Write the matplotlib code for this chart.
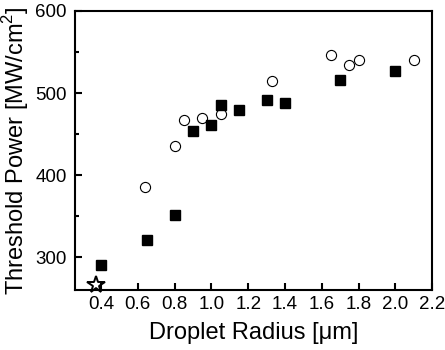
import numpy as np
import matplotlib as mpl
mpl.use('Agg')
import matplotlib.pyplot as plt
from matplotlib.ticker import MultipleLocator

plt.rcParams['font.family'] = ['Liberation Sans', 'DejaVu Sans']
plt.rcParams['mathtext.fontset'] = 'custom'
plt.rcParams['mathtext.rm'] = 'Liberation Sans'

# filled squares
sq_radius = [0.40, 0.65, 0.80, 0.90, 1.00, 1.05, 1.15, 1.30, 1.40, 1.70, 2.00]
sq_power = [291, 321, 352, 454, 461, 485, 479, 491, 488, 516, 527]

# open circles
ci_radius = [0.64, 0.80, 0.85, 0.95, 1.05, 1.33, 1.65, 1.75, 1.80, 2.10]
ci_power = [386, 435, 467, 469, 475, 515, 546, 534, 540, 540]

# star
st_radius = [0.37]
st_power = [266]

fig = plt.figure(figsize=(4.45, 3.5), dpi=100)
ax = fig.add_axes([0.1685, 0.1714, 0.8025, 0.7972])

ax.plot(ci_radius, ci_power, 'o', ms=7.3, mfc='white', mec='black', mew=0.8,
        linestyle='none')
ax.plot(sq_radius, sq_power, 's', ms=7, mfc='black', mec='black',
        linestyle='none')
ax.plot(st_radius, st_power, '*', ms=13, mfc='none', mec='black', mew=1.4,
        linestyle='none', clip_on=False, zorder=5)

ax.set_xlim(0.258, 2.2)
ax.set_ylim(260, 600)
ax.set_xticks([0.4, 0.6, 0.8, 1.0, 1.2, 1.4, 1.6, 1.8, 2.0, 2.2])
ax.set_yticks([300, 400, 500, 600])
ax.yaxis.set_minor_locator(MultipleLocator(50))

for s in ax.spines.values():
    s.set_linewidth(1.5)
ax.tick_params(which='major', direction='in', length=5, width=1.5,
               labelsize=13.5, pad=4)
ax.tick_params(which='minor', direction='in', length=3, width=1.5)
ax.tick_params(axis='y', pad=6)

ax.set_xlabel('Droplet Radius [μm]', fontsize=17, labelpad=7)
ax.set_ylabel('Threshold Power [MW/cm$^2$]', fontsize=17, labelpad=3)

fig.savefig('out.png', dpi=100)
